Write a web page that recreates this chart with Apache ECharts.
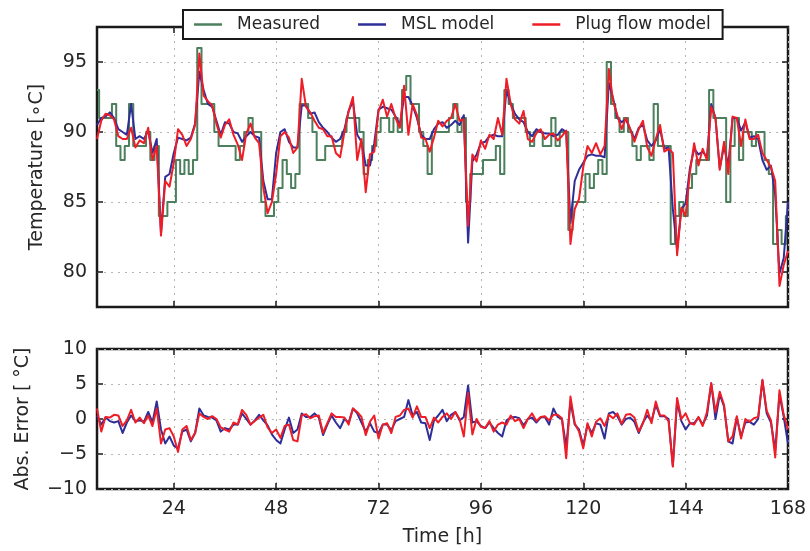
<!DOCTYPE html>
<html><head><meta charset="utf-8">
<script src="https://cdn.jsdelivr.net/npm/echarts@6/dist/echarts.min.js"></script>
<style>html,body{margin:0;padding:0;background:#fff}#c{width:810px;height:551px}</style>
</head><body><div id="c"></div><script>
// time grid (hours), one sample per hour
const startHour = 6, endHour = 168;
const hours = []; for (let h = startHour; h <= endHour; h++) hours.push(h);

const measured = [
 93,91,91,91,92,89,88,89,92,89,
 89,89,90,88,89,84,84,85,85,88,
 87,88,87,88,96,92,92,92,90,89,
 89,89,89,88,89,90,91,90,90,85,
 84,84,85,86,88,87,86,87,92,92,
 91,90,88,88,89,89,89,89,90,91,
 91,91,90,87,88,89,90,91,91,90,
 91,90,93,94,92,92,90,89,87,90,
 90,90,90,91,92,90,91,85,87,87,
 87,88,88,88,89,87,93,92,91,91,
 91,90,89,90,90,89,89,91,89,90,
 90,83,85,85,85,87,86,87,88,87,
 95,92,91,90,91,90,89,88,89,89,
 88,92,89,89,89,82,84,85,84,86,
 87,88,88,88,93,91,91,91,85,89,
 91,88,90,90,89,90,90,88,87,82,
 83,82,84];

const mslModel = [
 90.5,91.0,91.1,91.4,91.0,90.2,90.0,89.8,92.0,89.5,
 89.7,89.5,90.1,88.5,89.5,82.8,86.8,87.0,88.5,89.6,
 89.5,89.4,89.6,90.6,94.3,93.0,92.0,91.8,90.8,89.8,
 90.7,90.6,90.0,89.9,89.3,89.7,90.0,89.7,89.6,86.5,
 85.2,85.2,88.5,90.0,90.2,89.3,88.9,88.9,91.9,91.9,
 91.3,91.4,90.7,90.3,90.0,89.6,89.3,89.5,90.2,91.5,
 92.2,89.8,89.3,87.6,87.6,89.2,91.6,91.8,91.7,91.6,
 91.1,90.5,92.5,92.5,91.9,91.0,89.8,89.5,89.5,90.2,
 90.6,90.7,90.3,90.5,90.8,90.5,91.2,82.1,87.9,88.4,
 89.2,89.3,89.7,89.8,89.7,89.7,93.0,92.0,91.3,90.9,
 90.7,90.0,89.7,90.2,90.0,89.9,89.9,89.7,89.8,90.2,
 90.0,83.5,86.5,87.3,87.8,88.3,88.4,88.3,88.3,88.2,
 93.5,92.4,91.0,90.7,90.9,90.2,89.5,90.3,90.5,89.4,
 89.0,89.4,90.2,88.8,88.9,84.5,81.6,84.5,84.9,87.4,
 88.8,88.4,88.6,88.2,92.0,91.0,87.4,89.0,87.6,91.0,
 91.0,90.1,90.7,89.6,89.7,89.5,88.0,87.3,87.6,85.5,
 79.9,81.0,85.0];

const plugFlowModel = [
 89.5,90.8,91.3,91.2,90.9,89.7,89.5,89.5,90.3,88.9,
 89.4,89.2,90.3,88.0,89.0,82.6,86.5,86.1,87.8,90.2,
 89.8,89.0,89.5,90.5,95.6,92.6,92.2,91.9,90.6,89.6,
 90.5,90.9,89.8,89.1,88.0,89.9,90.6,89.6,89.2,86.0,
 84.2,85.0,87.0,89.7,90.0,89.6,88.5,88.9,93.8,91.8,
 91.4,90.8,90.3,90.2,89.7,89.7,88.5,88.2,90.0,91.5,
 92.5,88.0,89.5,85.7,88.4,88.6,91.5,92.3,91.1,92.0,
 91.0,90.3,93.3,89.8,92.0,91.2,89.6,89.5,88.6,89.6,
 90.8,90.4,90.8,91.0,92.0,90.8,90.9,83.3,88.4,87.9,
 89.4,88.8,89.8,89.5,91.0,89.8,93.8,92.0,90.9,90.6,
 91.5,89.5,89.3,89.9,90.2,89.5,89.8,89.9,89.4,89.7,
 90.1,82.0,84.5,85.2,87.5,89.0,88.5,89.2,88.4,89.0,
 94.5,92.2,91.2,90.2,91.0,90.2,89.3,90.2,90.8,88.9,
 88.3,89.5,90.5,88.6,88.8,88.5,81.2,84.6,84.0,87.1,
 89.2,87.6,88.8,88.0,91.8,91.0,87.3,89.3,87.0,91.1,
 91.0,89.0,90.9,89.5,89.5,89.8,88.5,88.0,87.5,86.5,
 79.0,80.5,81.5];

const mslError = [
 0.5,-0.8,0.2,-0.3,-0.5,-0.3,-2.0,-0.5,0.5,-0.3,
 -0.2,-0.4,1.0,-0.5,2.5,-1.5,-3.5,-2.5,-3.8,-4.2,
 -1.8,-1.5,-3.2,-2.0,1.5,0.5,0.3,0.2,-0.2,-1.8,
 -1.3,-1.5,-0.8,-0.8,0.8,0.0,-0.8,-0.2,0.6,-0.2,
 -0.9,-2.2,-3.0,-3.5,-1.5,0.2,-2.0,-1.5,0.8,0.3,
 0.3,0.8,0.2,-2.3,-0.8,0.5,-0.5,-1.3,0.0,-0.5,
 1.5,0.8,-0.5,-1.8,-0.6,-1.8,-2.0,-0.8,-0.8,-1.6,
 -0.3,0.0,0.3,2.7,0.5,1.0,-0.5,-0.6,-3.0,-0.2,
 0.5,1.3,-0.3,0.6,1.0,-0.2,0.3,4.8,-0.5,-0.3,
 -1.0,-1.3,-0.5,-1.3,-2.0,-2.5,-0.2,0.2,0.3,0.1,
 -0.9,0.0,0.2,-0.5,0.2,0.3,-0.8,1.5,0.3,0.0,
 -4.0,2.5,-0.8,-1.5,-3.8,-0.8,-2.0,-0.6,-0.8,-2.8,
 0.8,1.0,0.4,-0.8,0.0,0.2,-0.4,-2.0,-0.5,0.5,
 -0.3,2.0,0.4,0.4,0.0,-6.7,2.5,-0.3,-1.5,-0.6,
 -0.6,0.2,-0.8,0.5,5.1,0.0,3.5,1.8,-3.2,-3.5,
 0.2,-2.5,-0.5,-0.4,-0.8,0.0,5.5,0.8,-0.5,-4.5,
 3.5,0.3,-3.5];

const plugFlowError = [
 1.5,-1.8,0.3,0.2,0.6,0.5,-1.0,-0.2,1.3,-0.5,
 0.2,-0.6,0.5,-1.0,1.5,-3.5,-1.5,-1.3,-2.5,-4.7,
 -1.5,-1.0,-3.0,-2.0,0.8,0.3,0.0,0.4,0.0,-1.2,
 -1.5,-1.8,-0.5,-0.8,1.3,0.6,-0.8,-0.3,0.2,0.6,
 -1.2,-2.0,-1.5,-2.7,-1.0,-0.8,-3.0,-3.2,0.5,0.7,
 0.1,0.4,0.5,-2.0,-0.6,0.8,0.3,0.3,0.2,-0.8,
 1.5,1.0,0.3,-2.3,-0.4,0.5,-2.8,-0.8,-0.6,-2.0,
 0.3,0.5,1.3,1.5,0.2,1.8,0.3,0.3,-1.3,0.2,
 -0.5,0.3,0.8,0.0,1.0,0.0,-2.5,3.7,-2.2,0.0,
 -1.1,-1.3,-0.3,-1.8,-0.8,-0.5,-0.8,0.5,-0.3,0.0,
 -1.3,0.0,0.8,-0.3,0.3,0.4,-0.2,0.6,0.6,0.1,
 -5.6,3.2,-0.6,-1.8,-4.2,-0.6,-2.5,-0.4,0.1,-1.0,
 0.6,0.1,0.8,-0.7,0.6,0.7,0.2,-1.8,-0.6,1.3,
 -0.6,2.5,0.5,0.5,-0.3,-6.8,3.0,0.0,0.8,-0.6,
 -0.8,0.3,-1.0,1.0,5.1,1.0,3.9,2.0,-3.2,-2.5,
 0.4,-2.8,0.0,-0.4,0.1,0.3,5.6,1.2,-0.2,-5.5,
 4.1,0.6,-1.5];

const xTicks = [24, 48, 72, 96, 120, 144, 168];
const tempTicks = [80, 85, 90, 95];
const errTicks = [-10, -5, 0, 5, 10];
const seriesNames = ['Measured', 'MSL model', 'Plug flow model'];

const FONT = 'DejaVu Sans';
const INK = '#262626';
const SPINE = '#1a1a1a';
const colors = { meas: '#4c7f5c', msl: '#2e2e98', plug: '#ee1d26' };
const pair = (ys) => hours.map((h, i) => [h, ys[i]]);
const minus = (v) => String(v).replace('-', '\u2212');

const gridLine = { show: true, lineStyle: { color: '#b5b5b5', type: [2, 5], width: 1 } };
const tick = (vals) => ({ show: true, inside: true, length: 6, lineStyle: { color: SPINE, width: 1.5 }, customValues: vals });

function xAx(grid, pos, labels) {
  return {
    type: 'value', gridIndex: grid, position: pos, min: startHour, max: endHour,
    axisLine: { show: false, onZero: false }, axisTick: tick(xTicks),
    axisLabel: labels ? { show: true, customValues: xTicks, margin: 11, fontFamily: FONT, fontSize: 19, color: INK } : { show: false },
    splitLine: pos === 'bottom' ? gridLine : { show: false },
    name: labels ? 'Time [h]' : '', nameLocation: 'middle', nameGap: 39,
    nameTextStyle: { fontFamily: FONT, fontSize: 19, color: INK }
  };
}
function yAx(grid, pos, min, max, vals, name, gap) {
  const left = pos === 'left';
  return {
    type: 'value', gridIndex: grid, position: pos, min: min, max: max,
    axisLine: { show: false, onZero: false }, axisTick: tick(vals),
    axisLabel: left ? { show: true, customValues: vals, margin: 10, fontFamily: FONT, fontSize: 19, color: INK, formatter: minus } : { show: false },
    splitLine: left ? gridLine : { show: false },
    name: left ? name : '', nameLocation: 'middle', nameRotate: 90, nameGap: gap,
    nameTextStyle: { fontFamily: FONT, fontSize: 19, color: INK }
  };
}
function line(name, data, color, xi, yi, step) {
  return {
    type: 'line', name: name, data: data, xAxisIndex: xi, yAxisIndex: yi,
    showSymbol: false, symbol: 'none', step: step || false, animation: false,
    lineStyle: { color: color, width: 2, join: 'round' }, itemStyle: { color: color }
  };
}

const chart = echarts.init(document.getElementById('c'), null, { renderer: 'canvas' });
chart.setOption({
  animation: false,
  backgroundColor: '#fff',
  grid: [
    { left: 97, right: 22, top: 27, height: 280, show: true, borderColor: SPINE, borderWidth: 2.5, backgroundColor: 'transparent' },
    { left: 97, right: 22, top: 349, height: 140, show: true, borderColor: SPINE, borderWidth: 2.5, backgroundColor: 'transparent' }
  ],
  xAxis: [ xAx(0, 'bottom', false), xAx(0, 'top', false), xAx(1, 'bottom', true), xAx(1, 'top', false) ],
  yAxis: [
    yAx(0, 'left', 77.5, 97.5, tempTicks, 'Temperature [\u2218C]', 50),
    yAx(0, 'right', 77.5, 97.5, tempTicks, '', 0),
    yAx(1, 'left', -10, 10, errTicks, 'Abs. Error [ \u00b0C]', 64),
    yAx(1, 'right', -10, 10, errTicks, '', 0)
  ],
  legend: {
    left: 183, top: 10, padding: [6, 12, 6, 11], itemGap: 38, itemWidth: 28, itemHeight: 2.5, icon: 'rect',
    backgroundColor: '#fff', borderColor: SPINE, borderWidth: 2, borderRadius: 0, z: 10,
    textStyle: { fontFamily: FONT, fontSize: 17, color: INK, padding: [0, 0, 0, 10] },
    data: seriesNames
  },
  series: [
    line(seriesNames[0], pair(measured), colors.meas, 0, 0, 'middle'),
    line(seriesNames[1], pair(mslModel), colors.msl, 0, 0),
    line(seriesNames[2], pair(plugFlowModel), colors.plug, 0, 0),
    line('MSL error', pair(mslError), colors.msl, 2, 2),
    line('Plug flow error', pair(plugFlowError), colors.plug, 2, 2)
  ]
});
</script></body></html>
